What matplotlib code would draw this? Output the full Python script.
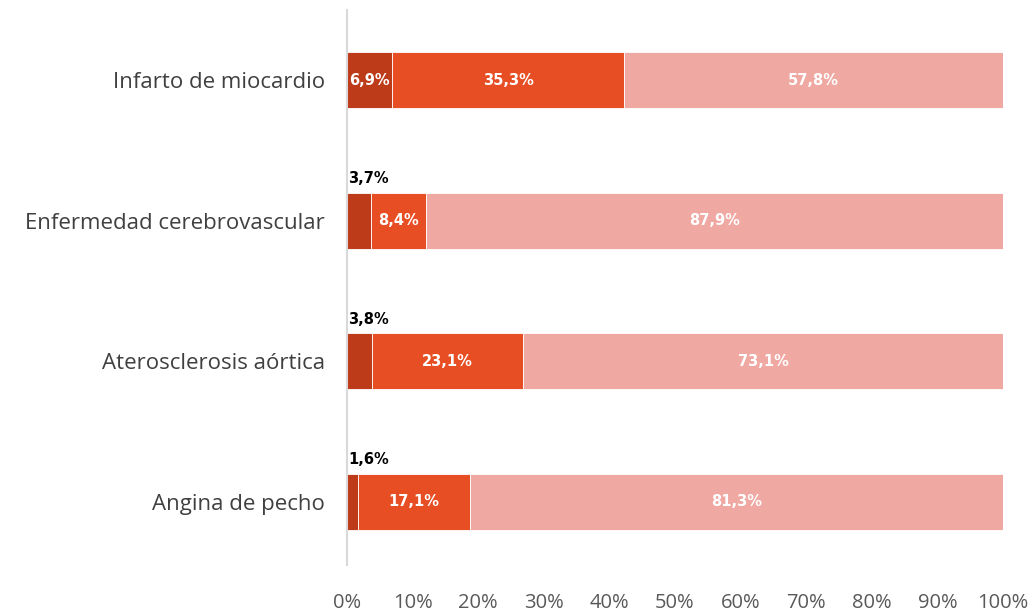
import numpy as np
import matplotlib
matplotlib.use('Agg')
from matplotlib import pyplot as plt

categories = ['Infarto de miocardio', 'Enfermedad cerebrovascular',
              'Aterosclerosis aórtica', 'Angina de pecho']
serie_a = [6.9, 3.7, 3.8, 1.6]
serie_b = [35.3, 8.4, 23.1, 17.1]
serie_c = [57.8, 87.9, 73.1, 81.3]
tick_vals = [0, 10, 20, 30, 40, 50, 60, 70, 80, 90, 100]

colores = ['#BE3B1A', '#E84E24', '#F0A8A2']

fig = plt.figure(figsize=(10.35, 6.15), dpi=100)
ax = fig.add_axes([0.3353, 0.0813, 0.6338, 0.9024])

y = np.arange(len(categories))
left = np.zeros(len(categories))
for serie, col in zip([serie_a, serie_b, serie_c], colores):
    ax.barh(y, serie, left=left, height=0.4, color=col, edgecolor='white', linewidth=0.6)
    for i, v in enumerate(serie):
        txt = ('%.1f%%' % v).replace('.', ',')
        if v < 5:
            # etiqueta fuera, encima de la barra
            ax.text(0.2, y[i] - 0.3, txt, ha='left', va='center', color='black',
                    fontsize=10.5, fontweight='bold', family='DejaVu Sans')
        else:
            ax.text(left[i] + v / 2, y[i], txt, ha='center', va='center', color='white',
                    fontsize=10.5, fontweight='bold', family='DejaVu Sans')
    left = left + np.array(serie)

ax.set_xlim(0, 100)
ax.set_ylim(3.45, -0.5)
ax.set_yticks(y)
ax.set_yticklabels(categories, fontsize=16, color='#404040', family='Open Sans')
ax.set_xticks(tick_vals)
ax.set_xticklabels(['%d%%' % t for t in tick_vals], fontsize=14.5, color='#595959', family='Open Sans')
ax.tick_params(axis='both', length=0)
ax.tick_params(axis='x', pad=20)
ax.tick_params(axis='y', pad=16)

for s in ['top', 'right', 'bottom']:
    ax.spines[s].set_visible(False)
ax.spines['left'].set_color('#D9D9D9')
ax.spines['left'].set_linewidth(1.5)

fig.savefig('out.png', dpi=100)
